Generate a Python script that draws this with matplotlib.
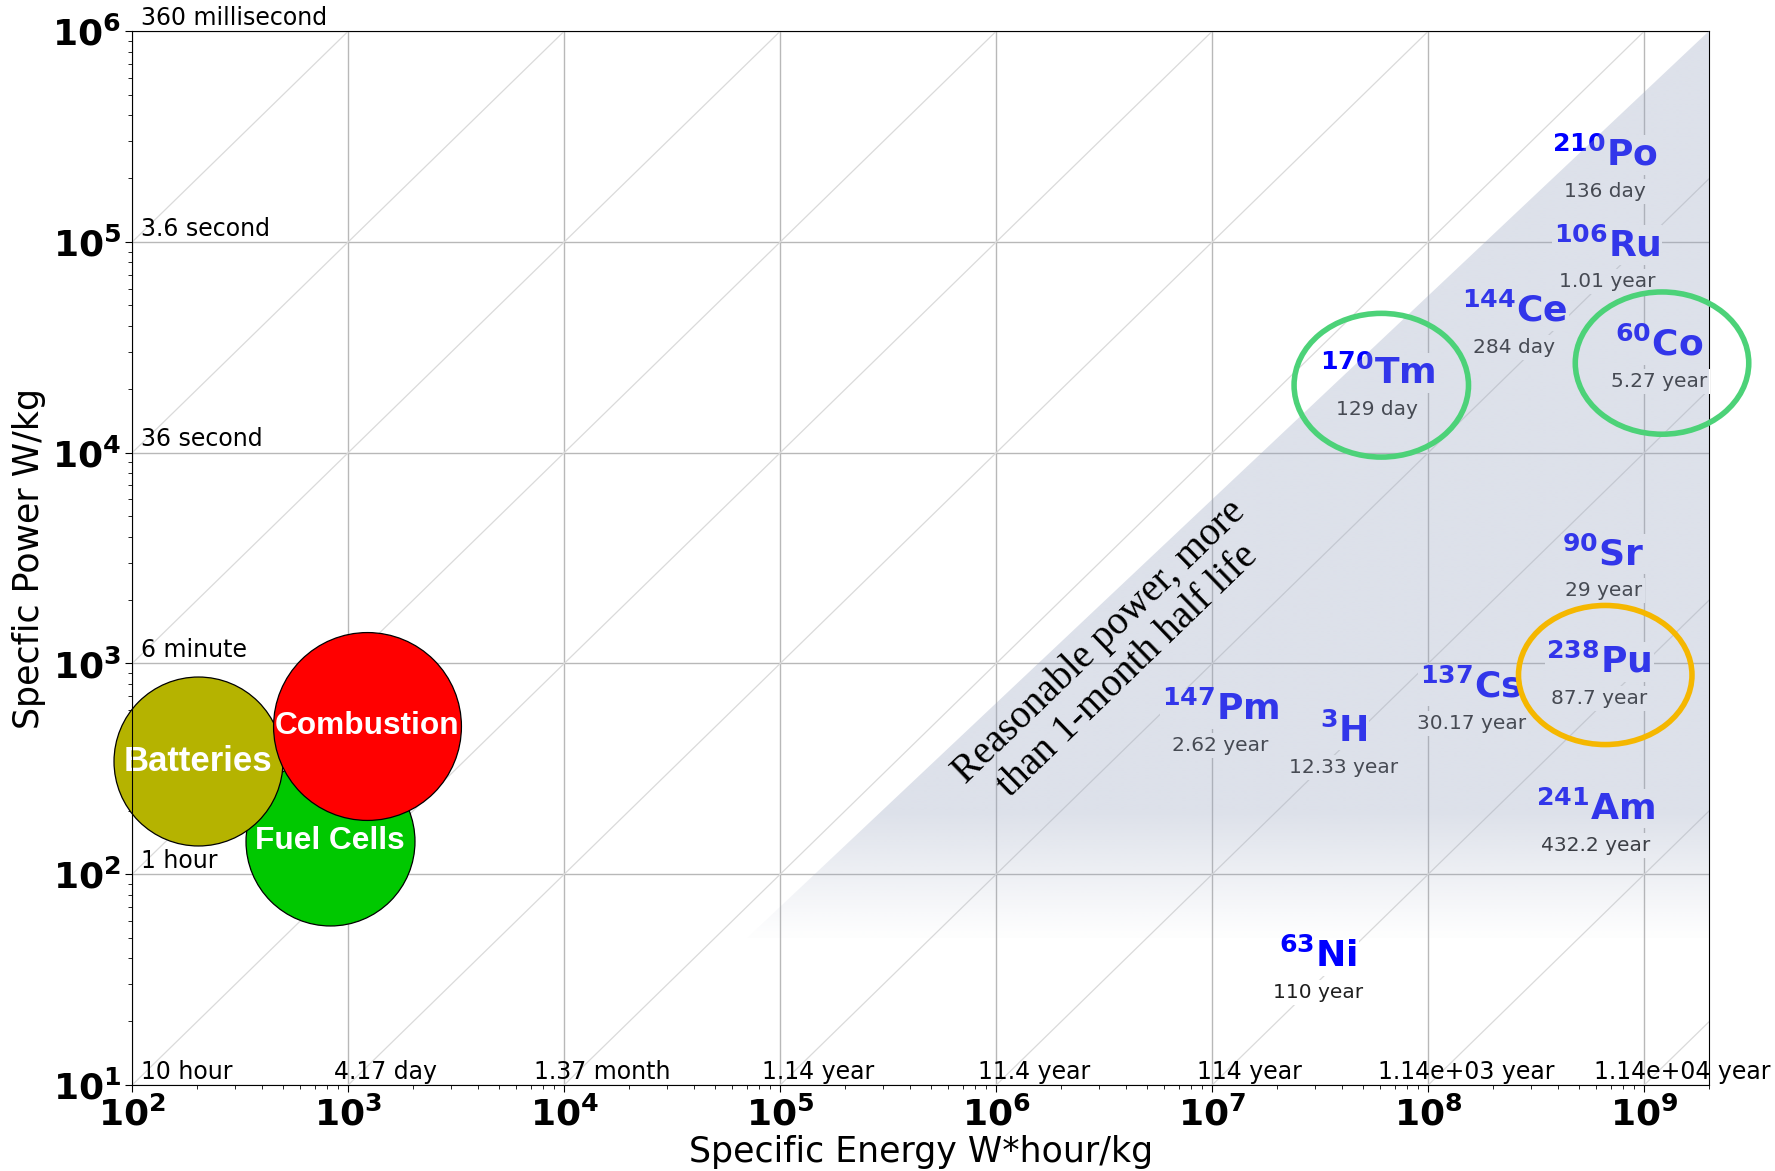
import numpy as np
import matplotlib
matplotlib.use("Agg")
import matplotlib.pyplot as plt
from matplotlib.patches import Polygon, Ellipse

# isotope sources: (specific energy W*h/kg, specific power W/kg)
isotopes = ['Po', 'Ru', 'Ce', 'Co', 'Tm', 'Sr', 'Pu', 'Cs', 'Pm', 'H', 'Am', 'Ni']
mass_numbers = ['210', '106', '144', '60', '170', '90', '238', '137', '147', '3', '241', '63']
half_lives = ['136 day', '1.01 year', '284 day', '5.27 year', '129 day', '29 year',
              '87.7 year', '30.17 year', '2.62 year', '12.33 year', '432.2 year', '110 year']
iso_energy = [6.56e8, 6.72e8, 2.50e8, 1.17e9, 5.81e7, 6.48e8, 6.18e8, 1.58e8, 1.09e7, 4.05e7, 5.96e8, 3.10e7]
iso_power = [2.13e5, 7.93e4, 3.87e4, 2.67e4, 1.96e4, 2.71e3, 837, 638, 498, 394, 168, 33.6]

# conventional technologies (drawn bottom to top)
tech_names = ['Fuel Cells', 'Batteries', 'Combustion']
tech_energy = [824, 201, 1227]
tech_power = [143, 344, 504]
tech_colors = ['#00c800', '#b5b300', '#ff0000']
tech_sizes = [14800, 14800, 18300]
tech_fontsizes = [22.8, 25, 22.8]

# lines of constant energy/power (hours) and their labels
time_hours = [1e-4, 1e-3, 1e-2, 1e-1, 1, 10, 1e2, 1e3, 1e4, 1e5, 1e6, 1e7, 1e8]
time_labels = ['360 millisecond', '3.6 second', '36 second', '6 minute', '1 hour', '10 hour',
               '4.17 day', '1.37 month', '1.14 year', '11.4 year', '114 year',
               '1.14e+03 year', '1.14e+04 year']

# "reasonable" region
tri_energy = [7e4, 2e9, 2e9]
tri_power = [50, 50, 1e6]

xmin, xmax = 1e2, 2e9
ymin, ymax = 1e1, 1e6

fig = plt.figure(figsize=(17.75, 11.71), dpi=100)
ax = fig.add_axes([0.0745, 0.0735, 0.8885, 0.8999])
ax.set_xscale('log')
ax.set_yscale('log')
ax.set_xlim(xmin, xmax)
ax.set_ylim(ymin, ymax)
ax.set_axisbelow(True)
ax.grid(True, which='major', color='#b8b8b8', lw=1.0)

# diagonal time lines
e_line = np.array([1e0, 1e11])
for h in time_hours:
    ax.plot(e_line, e_line / h, color='#dadada', lw=0.9, zorder=1)

for h, lab in zip(time_hours, time_labels):
    if h <= 10:
        ax.annotate(lab, (xmin, xmin / h), xytext=(6, 1), textcoords='offset points',
                    ha='left', va='bottom', fontsize=17, zorder=3)
    else:
        ax.annotate(lab, (10 * h, ymin), xytext=(27, 1), textcoords='offset points',
                    ha='center', va='bottom', fontsize=17, zorder=3, annotation_clip=False)

# conventional circles
for name, e, p, c, s, fs in zip(tech_names, tech_energy, tech_power, tech_colors,
                                tech_sizes, tech_fontsizes):
    ax.scatter([e], [p], s=s, color=c, edgecolor='black', lw=0.9, zorder=2, clip_on=False)
    ax.text(e, p, name, ha='center', va='center', color='white', fontsize=fs,
            fontweight='bold', family='Liberation Sans', zorder=2.5, clip_on=False)

# isotope labels
for el, m, hl, e, p in zip(isotopes, mass_numbers, half_lives, iso_energy, iso_power):
    ax.annotate(r'$\mathbf{^{%s}%s}$' % (m, el), (e, p), xytext=(0, 0), textcoords='offset points',
                ha='center', va='bottom', fontsize=26, color='#0000ff', zorder=3,
                bbox=dict(boxstyle='square,pad=0.05', fc='white', ec='none'))
    t = ax.annotate(hl, (e, p), xytext=(0, -6.5), textcoords='offset points',
                    ha='center', va='top', fontsize=14.5, color='#1e1e1e', zorder=3,
                    bbox=dict(boxstyle='square,pad=0.15', fc='white', ec='none'))
    t.set_clip_on(True)

# shaded region with fading bottom
tri = Polygon(list(zip(tri_energy, tri_power)), closed=True, fc='none', ec='none')
ax.add_patch(tri)
ny = 600
frac = (np.arange(ny) + 0.5) / ny
logp = np.log10(ymin) + frac * (np.log10(ymax) - np.log10(ymin))
fade = np.clip((logp - 1.69) / (2.30 - 1.69), 0.06, 1.0)
grad = np.zeros((ny, 2, 4))
grad[..., 0] = 153 / 255
grad[..., 1] = 165 / 255
grad[..., 2] = 192 / 255
grad[..., 3] = (0.335 * fade)[:, None]
im = ax.imshow(grad, extent=(0, 1, 0, 1), transform=ax.transAxes, origin='lower',
               aspect='auto', interpolation='bilinear', zorder=4)
im.set_clip_path(tri)
ax.set_xlim(xmin, xmax)
ax.set_ylim(ymin, ymax)

ax.text(3.5e6, 1080, 'Reasonable power, more\nthan 1-month half life', rotation=44,
        ha='center', va='center', fontsize=28.5, family='Liberation Serif',
        linespacing=1.12, rotation_mode='anchor', zorder=5)

# highlight rings
rings = [(0.792, 0.664, 0.1106, 0.1364, '#4cd278'),
         (0.970, 0.685, 0.1100, 0.1350, '#4cd278'),
         (0.934, 0.389, 0.1100, 0.1320, '#f5b700')]
for cx, cy, w, hgt, col in rings:
    ax.add_patch(Ellipse((cx, cy), w, hgt, transform=ax.transAxes, fill=False,
                         ec=col, lw=4, clip_on=False, zorder=6))

ax.tick_params(axis='both', which='major', labelsize=26, length=5, pad=3)
ax.tick_params(axis='both', which='minor', length=3)
for lab in ax.get_xticklabels() + ax.get_yticklabels():
    lab.set_fontweight('bold')

ax.set_xlabel('Specific Energy W*hour/kg', fontsize=25, labelpad=2)
ax.set_ylabel('Specfic Power W/kg', fontsize=25, labelpad=4)

fig.savefig('out.png', dpi=100)
